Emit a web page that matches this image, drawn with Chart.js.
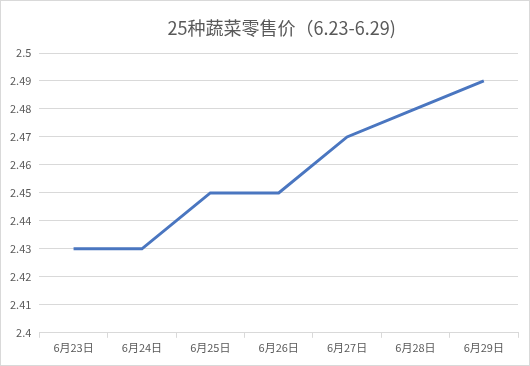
<!DOCTYPE html>
<html>
<head>
<meta charset="utf-8">
<script src="https://cdn.jsdelivr.net/npm/chart.js@4"></script>
<style>
  html, body { margin: 0; padding: 0; background: #fff; }
  #wrap { width: 528px; height: 364px; border: 1px solid #d9d9d9; }
</style>
</head>
<body>
<div id="wrap"><canvas id="myChart" width="528" height="364"></canvas></div>
<script>
const days = ['6月23日', '6月24日', '6月25日', '6月26日', '6月27日', '6月28日', '6月29日'];
const prices = [2.43, 2.43, 2.45, 2.45, 2.47, 2.48, 2.49];
const yMin = 2.4;
const yMax = 2.5;
const yStep = 0.01;
const titleText = '25种蔬菜零售价（6.23-6.29)';

const fontFamily = "'Noto Sans CJK SC', 'Noto Sans', sans-serif";

// title is centred over the plot area, like the spreadsheet does it
const titlePlugin = {
    id: 'plotTitle',
    afterDraw(chart) {
        const c = chart.ctx;
        const area = chart.chartArea;
        c.save();
        c.fillStyle = '#595959';
        c.font = '18px ' + fontFamily;
        c.textAlign = 'center';
        c.textBaseline = 'middle';
        c.fillText(titleText, (area.left + area.right) / 2 + 3, 27);
        c.restore();
    }
};

const ctx = document.getElementById('myChart').getContext('2d');
const myChart = new Chart(ctx, {
    type: 'line',
    data: {
        labels: days,
        datasets: [{
            data: prices,
            borderColor: '#4a76c0',
            borderWidth: 3,
            pointRadius: 0,
            tension: 0,
            fill: false
        }]
    },
    options: {
        responsive: false,
        animation: false,
        layout: { padding: { left: 1, right: 11, top: 52, bottom: 8 } },
        plugins: {
            legend: { display: false },
            tooltip: { enabled: false },
            title: { display: false }
        },
        scales: {
            x: {
                offset: true,
                grid: {
                    offset: true,
                    drawOnChartArea: false,
                    color: '#d9d9d9',
                    tickLength: 5
                },
                border: { color: '#d9d9d9' },
                ticks: {
                    color: '#595959',
                    font: { family: fontFamily, size: 11 },
                    maxRotation: 0,
                    padding: 3
                }
            },
            y: {
                min: yMin,
                max: yMax,
                grid: { color: '#d9d9d9', drawTicks: false },
                border: { display: false },
                ticks: {
                    stepSize: yStep,
                    color: '#595959',
                    font: { family: fontFamily, size: 11 },
                    padding: 8,
                    callback: (v) => String(+v.toFixed(2))
                }
            }
        }
    },
    plugins: [titlePlugin]
});
</script>
</body>
</html>
